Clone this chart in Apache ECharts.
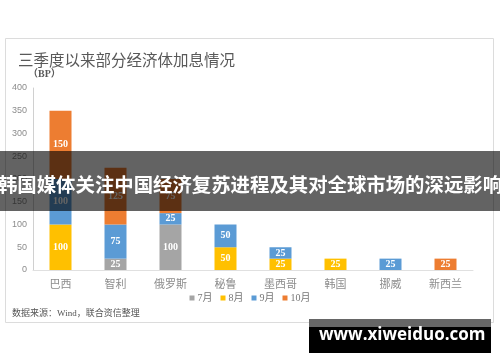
<!DOCTYPE html>
<html>
<head>
<meta charset="utf-8">
<script src="https://cdn.jsdelivr.net/npm/echarts@6/dist/echarts.min.js"></script>
<style>
  html, body { margin: 0; padding: 0; background: #fff; }
  #chart { width: 500px; height: 362px; }
</style>
</head>
<body>
<div id="chart"></div>
<script>
const categories = ['巴西', '智利', '俄罗斯', '秘鲁', '墨西哥', '韩国', '挪威', '新西兰']
const jul = [0, 25, 100, 0, 0, 0, 0, 0]
const aug = [100, 0, 0, 50, 25, 25, 0, 0]
const sep = [100, 75, 25, 50, 25, 0, 25, 0]
const oct = [150, 125, 75, 0, 0, 0, 0, 25]
const yTicks = [0, 400, 50]

const serif = '"Liberation Serif", "DejaVu Serif", "Noto Sans CJK SC", serif'
const cjk = '"Noto Sans CJK SC", sans-serif'

const myChart = echarts.init(document.getElementById('chart'))

function bar (name, data, color) {
  return {
    name: name,
    type: 'bar',
    stack: 'total',
    barWidth: '40%',
    data: data,
    itemStyle: { color: color },
    label: {
      show: true,
      position: 'inside',
      color: '#fff',
      fontWeight: 'bold',
      fontSize: 10,
      fontFamily: serif,
      formatter: p => (p.value > 0 ? p.value : '')
    }
  }
}

const option = {
  animation: false,
  backgroundColor: '#fff',
  title: {
    text: '三季度以来部分经济体加息情况',
    left: 13,
    top: 47,
    textStyle: { fontSize: 15.5, fontWeight: 'normal', color: '#595959', fontFamily: cjk }
  },
  legend: {
    bottom: 54,
    left: 'center',
    itemWidth: 5,
    itemHeight: 5,
    itemGap: 8,
    icon: 'rect',
    textStyle: { fontSize: 10, color: '#777', fontFamily: serif, padding: [0, 0, 0, -2] },
    data: ['7月', '8月', '9月', '10月']
  },
  grid: { left: 33, right: 27, top: 88, bottom: 92 },
  xAxis: {
    type: 'category',
    data: categories,
    axisLine: { lineStyle: { color: '#e0e0e0' } },
    axisTick: { show: false },
    axisLabel: { color: '#8c8c8c', fontSize: 11, fontFamily: cjk, margin: 8 }
  },
  yAxis: {
    type: 'value',
    min: yTicks[0],
    max: yTicks[1],
    interval: yTicks[2],
    axisLine: { show: true, lineStyle: { color: '#d0d0d0' } },
    axisTick: { show: false },
    splitLine: { show: false },
    axisLabel: { color: '#8c8c8c', fontSize: 9, margin: 6, fontFamily: '"Liberation Sans", sans-serif' }
  },
  series: [
    bar('7月', jul, '#A5A5A5'),
    bar('8月', aug, '#FFC000'),
    bar('9月', sep, '#5B9BD5'),
    bar('10月', oct, '#ED7D31')
  ],
  graphic: [
    {
      type: 'rect', z: -1, silent: true,
      shape: { x: 5.5, y: 38.5, width: 488, height: 284 },
      style: { fill: 'none', stroke: '#dcdcdc', lineWidth: 1 }
    },
    {
      type: 'text', left: 28, top: 69,
      style: { text: '（BP）', fontSize: 10, fill: '#595959', fontFamily: serif, fontWeight: 'bold' }
    },
    {
      type: 'text', left: 12, top: 309,
      style: { text: '数据来源：Wind，联合资信整理', fontSize: 9, fill: '#555', fontFamily: serif }
    },
    {
      type: 'rect', z: 100, silent: true,
      shape: { x: 0, y: 151, width: 500, height: 60 },
      style: { fill: 'rgba(0,0,0,0.61)' }
    },
    {
      type: 'text', z: 101,
      style: {
        x: 250, y: 185, align: 'center', verticalAlign: 'middle',
        text: '韩国媒体关注中国经济复苏进程及其对全球市场的深远影响',
        fontSize: 19.4, fontWeight: 'bold', fill: '#fff', fontFamily: cjk
      }
    },
    {
      type: 'rect', z: 100, silent: true,
      shape: { x: 309, y: 319, width: 182, height: 34 },
      style: { fill: '#000' }
    },
    {
      type: 'rect', z: 101, silent: true,
      shape: { x: 309, y: 319, width: 182, height: 8 },
      style: { fill: '#666' }
    },
    {
      type: 'text', z: 102, left: 319, top: 327,
      style: { text: 'www.xiweiduo.com', fontSize: 17, fontWeight: 'bold', fill: '#fff', fontFamily: '"Open Sans", "DejaVu Sans", sans-serif' }
    }
  ]
}

myChart.setOption(option)
</script>
</body>
</html>
